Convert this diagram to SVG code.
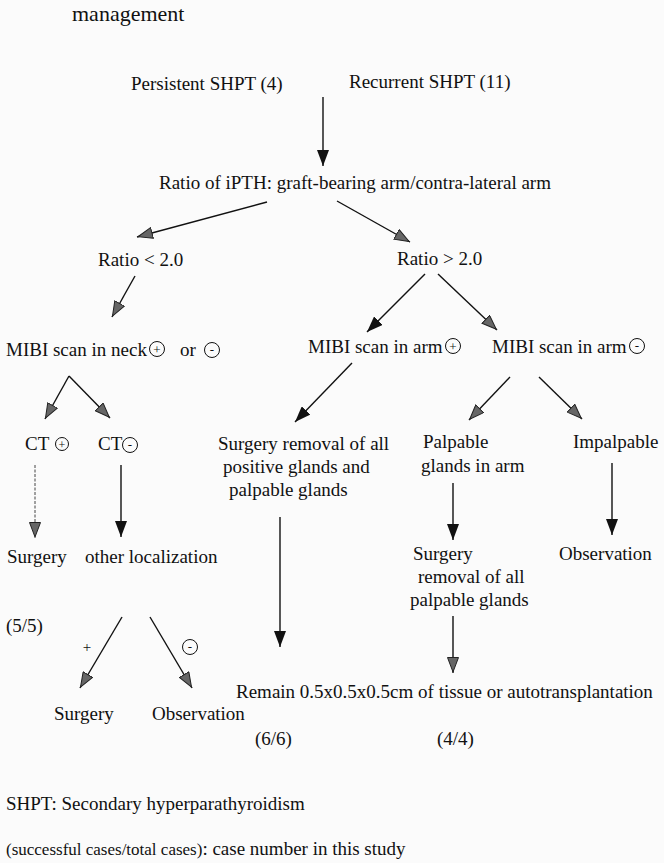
<svg xmlns="http://www.w3.org/2000/svg" width="664" height="863" viewBox="0 0 664 863">
<style>
.t{font-family:"Liberation Serif","Times New Roman",serif;font-size:19px;fill:#111}
.s{font-family:"Liberation Serif","Times New Roman",serif;font-size:13px;fill:#111}
.c{fill:none;stroke:#111;stroke-width:1}
.lb{stroke:#111;stroke-width:1.4;fill:none;marker-end:url(#ab)}
.lg{stroke:#111;stroke-width:1.4;fill:none;marker-end:url(#ag)}
.ld{stroke:#444;stroke-width:1;stroke-dasharray:3 1.5;fill:none;marker-end:url(#ag)}
</style>
<defs>
<marker id="ab" markerUnits="userSpaceOnUse" markerWidth="16" markerHeight="12" refX="16" refY="6" orient="auto">
<path d="M0,0 L16,6 L0,12 Z" fill="#111"/>
</marker>
<marker id="ag" markerUnits="userSpaceOnUse" markerWidth="16" markerHeight="12" refX="16" refY="6" orient="auto">
<path d="M0.5,0.5 L15,6 L0.5,11.5 Z" fill="#666" stroke="#222" stroke-width="1"/>
</marker>
</defs>
<rect width="664" height="863" fill="#fbfbfb"/>

<g id="title"><text class="t" x="72" y="21" style="font-size:22px">management</text></g>
<g id="persistent"><text class="t" x="131" y="90">Persistent SHPT (4)</text></g>
<g id="recurrent"><text class="t" x="349" y="88">Recurrent SHPT (11)</text></g>
<g id="ratio"><text class="t" x="159" y="189">Ratio of iPTH: graft-bearing arm/contra-lateral arm</text></g>
<g id="ratio-lt"><text class="t" x="98" y="266">Ratio &lt; 2.0</text></g>
<g id="ratio-gt"><text class="t" x="397" y="265">Ratio &gt; 2.0</text></g>

<g id="mibi-neck">
<text class="t" x="6" y="356">MIBI scan in neck</text>
<circle class="c" cx="157" cy="349" r="7.5"/><text class="s" x="157" y="353.5" text-anchor="middle">+</text>
<text class="t" x="180" y="356">or</text>
<circle class="c" cx="212" cy="350" r="7.5"/><text class="s" x="212" y="354" text-anchor="middle">-</text>
</g>
<g id="mibi-arm-pos">
<text class="t" x="308" y="353">MIBI scan in arm</text>
<circle class="c" cx="453" cy="346" r="7.5"/><text class="s" x="453" y="350.5" text-anchor="middle">+</text>
</g>
<g id="mibi-arm-neg">
<text class="t" x="492" y="353">MIBI scan in arm</text>
<circle class="c" cx="637" cy="346" r="7.5"/><text class="s" x="637" y="350" text-anchor="middle">-</text>
</g>

<g id="ct-pos">
<text class="t" x="25" y="450">CT</text>
<circle class="c" cx="62" cy="444" r="6.5"/><text class="s" x="62" y="448.5" text-anchor="middle" style="font-size:12px">+</text>
</g>
<g id="ct-neg">
<text class="t" x="98" y="450">CT</text>
<circle class="c" cx="130" cy="445" r="7.5"/><text class="s" x="130" y="449" text-anchor="middle">-</text>
</g>

<g id="surgery-removal-positive">
<text class="t" x="218" y="450">Surgery removal of all</text>
<text class="t" x="223" y="473">positive glands and</text>
<text class="t" x="229" y="496">palpable glands</text>
</g>
<g id="palpable">
<text class="t" x="423" y="448">Palpable</text>
<text class="t" x="421" y="472">glands in arm</text>
</g>
<g id="impalpable"><text class="t" x="573" y="448">Impalpable</text></g>

<g id="surgery-1"><text class="t" x="7" y="563">Surgery</text></g>
<g id="other-localization"><text class="t" x="85" y="563">other localization</text></g>
<g id="surgery-removal-palpable">
<text class="t" x="413" y="560">Surgery</text>
<text class="t" x="418" y="583">removal of all</text>
<text class="t" x="410" y="606">palpable glands</text>
</g>
<g id="observation-right"><text class="t" x="559" y="560">Observation</text></g>

<g id="count-5"><text class="t" x="6" y="632">(5/5)</text></g>
<g id="surgery-2"><text class="t" x="54" y="720">Surgery</text></g>
<g id="observation-left"><text class="t" x="152" y="720">Observation</text></g>
<g id="remain"><text class="t" x="236" y="698">Remain 0.5x0.5x0.5cm of tissue or autotransplantation</text></g>
<g id="count-6"><text class="t" x="255" y="745">(6/6)</text></g>
<g id="count-4"><text class="t" x="437" y="745">(4/4)</text></g>

<g id="legend">
<text class="t" x="6" y="810">SHPT: Secondary hyperparathyroidism</text>
<text class="t" x="6" y="855"><tspan style="font-size:17px">(successful cases/total cases)</tspan>: case number in this study</text>
</g>

<g id="connectors">
<line class="lb" x1="323" y1="97" x2="323" y2="166"/>
<line class="lg" x1="267" y1="202" x2="137" y2="237"/>
<line class="lg" x1="337" y1="201" x2="410" y2="242"/>
<line class="lg" x1="135" y1="276" x2="112" y2="317"/>
<line class="lb" x1="425" y1="274" x2="367" y2="332"/>
<line class="lg" x1="438" y1="274" x2="497" y2="330"/>
<line class="lg" x1="69" y1="376" x2="45" y2="419"/>
<line class="lg" x1="69" y1="376" x2="110" y2="418"/>
<line class="ld" x1="35" y1="465" x2="35" y2="538"/>
<line class="lb" x1="121" y1="465" x2="121" y2="537"/>
<line class="lb" x1="352" y1="363" x2="295" y2="422"/>
<line class="lg" x1="510" y1="377" x2="469" y2="420"/>
<line class="lg" x1="539" y1="377" x2="582" y2="419"/>
<line class="lb" x1="453" y1="483" x2="453" y2="540"/>
<line class="lb" x1="612" y1="463" x2="612" y2="535"/>
<line class="lb" x1="280" y1="517" x2="280" y2="647"/>
<line class="lg" x1="453" y1="616" x2="453" y2="673"/>
<line class="lg" x1="122" y1="617" x2="80" y2="688"/>
<line class="lg" x1="150" y1="617" x2="192" y2="688"/>
<text class="s" x="87" y="652" text-anchor="middle" style="font-size:15px">+</text>
<circle class="c" cx="190" cy="647" r="7.5"/><text class="s" x="190" y="651" text-anchor="middle">-</text>
</g>
</svg>
